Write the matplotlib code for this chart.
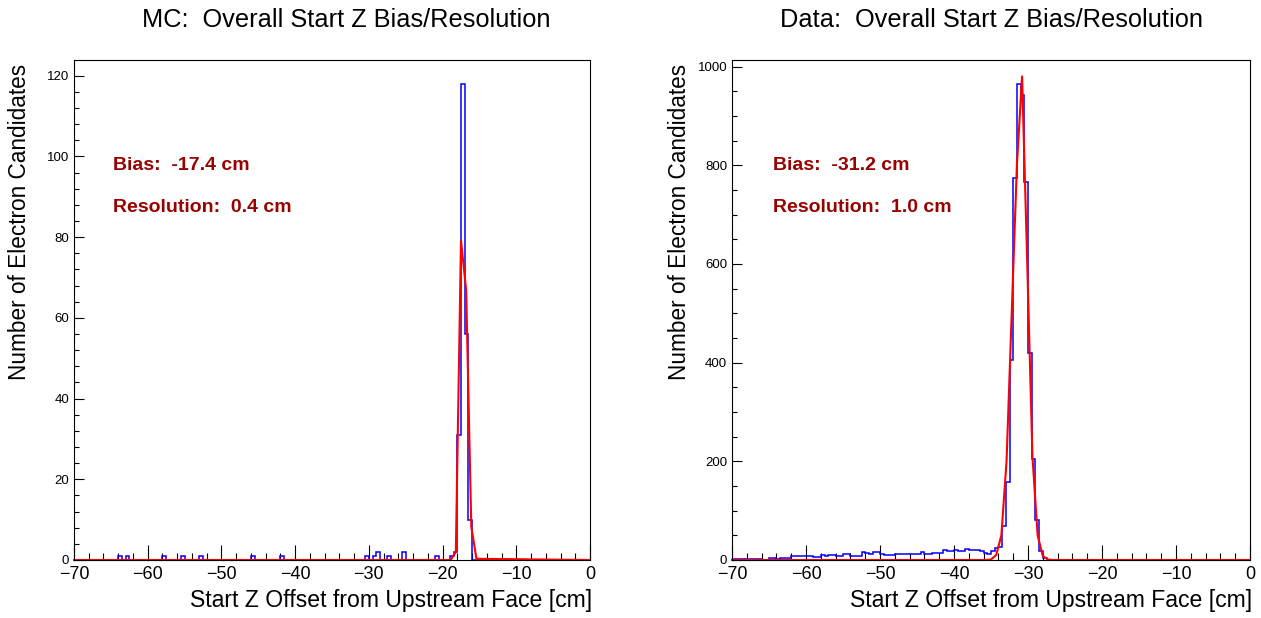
import numpy as np
import matplotlib
matplotlib.use('Agg')
import matplotlib.pyplot as plt
from matplotlib.ticker import MultipleLocator

plt.rcParams['font.family'] = ['Liberation Sans', 'DejaVu Sans']

# Binning: 0.5 cm bins from -70 to 0
edges = np.linspace(-70, 0, 141)

# MC histogram (non-empty bins only: lower edge, count)
mc_bin_low = [-64, -63, -58, -55.5, -53, -46, -42, -30.5, -29.5, -29, -27.5, -25.5,
              -21, -19, -18.5, -18, -17.5, -17, -16.5]
mc_bin_count = [1, 1, 1, 1, 1, 1, 1, 1, 1, 2, 1, 2,
                1, 1, 2, 31, 118, 56, 10]

# Data histogram, bins starting at -70 (the rest are empty)
data_counts = [2, 2, 3, 2, 2, 2, 3, 3, 1, 1,
               5, 5, 2, 5, 5, 5, 8, 8, 9, 9,
               8, 8, 7, 7, 11, 9, 11, 11, 8, 8,
               13, 13, 8, 8, 8, 16,
               15, 12, 17, 17, 12, 11, 11, 11, 13, 13, 13, 13,
               13, 13, 13, 16, 12, 12, 15, 15, 14, 20, 19, 19,
               21, 19, 19, 23, 20, 20, 20, 19,
               15, 13, 18, 24, 27, 69,
               158, 405, 775, 965, 943, 766, 420, 204, 81, 19, 5]

# Gaussian fit curves as drawn (polyline vertices)
mc_fit_x = [-70, -18.9, -18.2, -17.5, -16.8, -16.1, -15.4, 0]
mc_fit_y = [0, 0, 2, 79.2, 66.8, 8.2, 0.3, 0]
data_fit_x = [-70, -35.7, -35.0, -34.3, -33.6, -32.9, -32.2, -31.5, -30.8,
              -30.1, -29.4, -28.7, -28.0, -27.3, -26.6, 0]
data_fit_y = [0, 0, 1, 10, 50, 200, 500, 800, 980,
              600, 210, 50, 8, 1, 0, 0]

titles = ['MC:  Overall Start Z Bias/Resolution', 'Data:  Overall Start Z Bias/Resolution']
bias_text = ['Bias:  -17.4 cm', 'Bias:  -31.2 cm']
res_text = ['Resolution:  0.4 cm', 'Resolution:  1.0 cm']

W, H = 1261, 618
fig = plt.figure(figsize=(W / 100, H / 100), dpi=100)


def box(x0, x1, y0, y1):
    return [x0 / W, 1 - y1 / H, (x1 - x0) / W, (y1 - y0) / H]


mc_counts = np.zeros(140)
for lo, c in zip(mc_bin_low, mc_bin_count):
    mc_counts[int(round((lo + 70) / 0.5))] = c
data_full = np.zeros(140)
data_full[:len(data_counts)] = data_counts

panels = [
    dict(counts=mc_counts, fx=mc_fit_x, fy=mc_fit_y, box=box(74, 590, 60, 560),
         ymaj=20, ymin=4, right=590, title_x=346, ylab_x=20, tx=113),
    dict(counts=data_full, fx=data_fit_x, fy=data_fit_y, box=box(732, 1250, 60, 560),
         ymaj=200, ymin=50, right=1250, title_x=992, ylab_x=680, tx=773),
]

for i, p in enumerate(panels):
    ax = fig.add_axes(p['box'])
    ax.stairs(p['counts'], edges, color='blue', linewidth=1.1, zorder=2)
    ax.plot(p['fx'], p['fy'], color='red', linewidth=1.5, zorder=3, clip_on=False)

    ax.set_xlim(-70, 0)
    ax.set_ylim(0, 1.05 * max(p['counts']))

    ax.xaxis.set_major_locator(MultipleLocator(10))
    ax.xaxis.set_minor_locator(MultipleLocator(2))
    ax.yaxis.set_major_locator(MultipleLocator(p['ymaj']))
    ax.yaxis.set_minor_locator(MultipleLocator(p['ymin']))

    ax.tick_params(which='both', direction='in', top=False, right=False, width=0.8)
    ax.tick_params(axis='x', which='major', length=10.8, labelsize=13, pad=4.5)
    ax.tick_params(axis='x', which='minor', length=5.4)
    ax.tick_params(axis='y', which='major', length=7.2, labelsize=9.5, pad=3.5)
    ax.tick_params(axis='y', which='minor', length=3.6)
    for s in ax.spines.values():
        s.set_linewidth(0.8)
        s.set_zorder(4)

    fig.text(p['tx'] / W, 1 - 165 / H, bias_text[i], color='#990000', fontsize=14,
             fontweight='bold', va='center', ha='left')
    fig.text(p['tx'] / W, 1 - 208 / H, res_text[i], color='#990000', fontsize=14,
             fontweight='bold', va='center', ha='left')

    fig.text(p['title_x'] / W, 1 - 20 / H, titles[i], fontsize=18.3, ha='center', va='center')
    fig.text((p['right'] + 2) / W, 1 - 601 / H, 'Start Z Offset from Upstream Face [cm]',
             fontsize=16.6, ha='right', va='center')
    fig.text(p['ylab_x'] / W, 1 - 64 / H, 'Number of Electron Candidates',
             fontsize=16.3, rotation=90, ha='center', va='top')

fig.savefig('out.png', dpi=100)
